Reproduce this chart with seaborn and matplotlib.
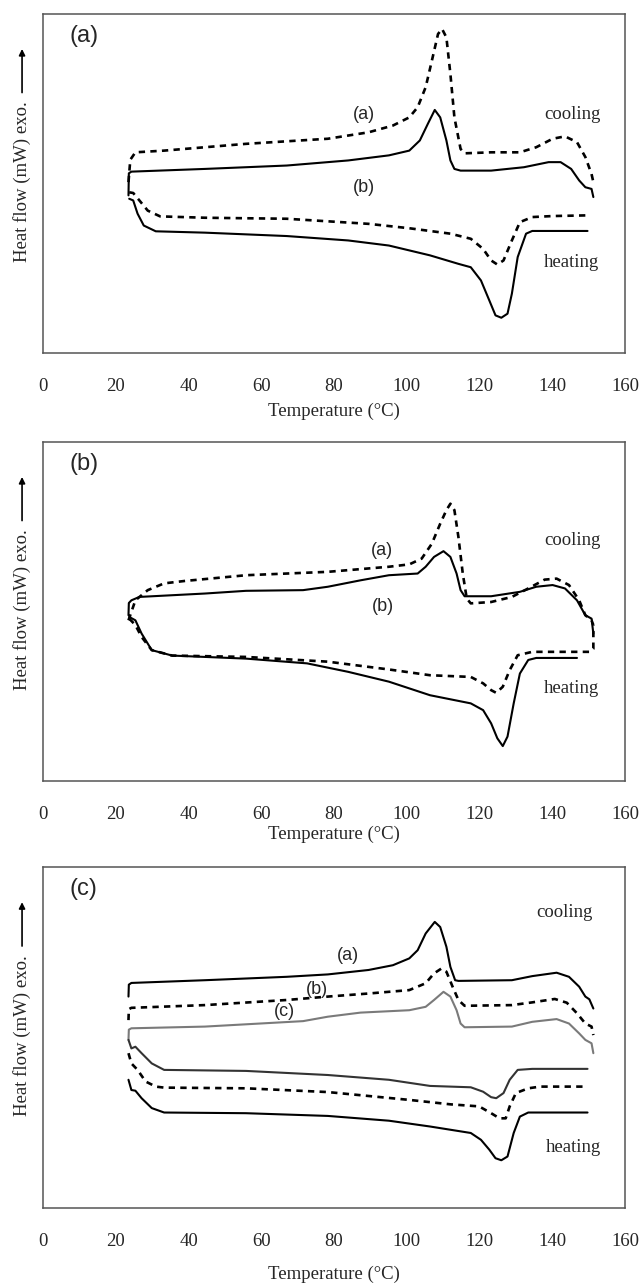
import pandas as pd
import matplotlib
matplotlib.use("Agg")
import matplotlib.pyplot as plt
import seaborn as sns

sns.set_style("white")
plt.rcParams['font.family'] = ['Liberation Serif', 'DejaVu Serif']

# ---- panel (a) ----
a_cool_a_T = [23.5, 24.0, 25.4, 33.3, 55.8, 78.3, 89.5, 96.2, 100.7, 103.0, 105.2, 106.9, 108.6, 109.7,
              110.9, 112.0, 113.1, 114.8, 115.9, 123.2, 131.1, 135.6, 140.1, 143.5, 146.8, 149.1, 150.8, 151.3]
a_cool_a_v = [50.4, 57.0, 59.2, 59.7, 61.7, 63.2, 65.1, 67.1, 69.5, 72.5, 78.4, 86.2, 94.1, 95.6,
              93.1, 82.3, 69.5, 60.2, 58.9, 59.2, 59.2, 60.7, 63.2, 63.9, 62.2, 57.8, 52.8, 50.4]
a_cool_b_T = [23.5, 23.6, 24.3, 44.5, 67.0, 83.9, 95.1, 100.7, 103.6, 105.8, 107.7, 109.2, 110.9, 112.0,
              113.1, 114.8, 123.2, 132.2, 139.0, 142.3, 145.2, 147.4, 149.1, 150.8, 151.3]
a_cool_b_v = [46.5, 53.0, 53.5, 54.3, 55.3, 56.8, 58.3, 59.7, 62.7, 67.6, 71.7, 69.5, 62.7, 56.8,
              54.3, 53.8, 53.8, 54.8, 56.3, 56.3, 54.3, 50.9, 48.9, 48.4, 46.0]
a_heat_a_T = [23.7, 24.8, 26.5, 28.8, 32.2, 44.5, 67.0, 89.5, 100.7, 112.0, 117.6, 121.0, 123.2, 124.9,
              126.6, 128.9, 131.1, 134.5, 140.1, 149.7]
a_heat_a_v = [47.4, 47.2, 45.0, 42.0, 40.3, 39.9, 39.6, 38.1, 36.8, 35.2, 33.7, 30.7, 27.3, 26.1,
              27.3, 33.2, 38.6, 40.1, 40.4, 40.6]
a_heat_b_T = [23.7, 24.8, 26.0, 27.7, 31.0, 44.5, 67.0, 83.9, 95.1, 106.4, 114.2, 117.6, 120.4, 122.7,
              124.4, 126.0, 127.7, 128.9, 130.5, 132.8, 134.5, 149.7]
a_heat_b_v = [45.5, 45.0, 41.1, 37.6, 35.9, 35.5, 34.5, 33.2, 31.7, 28.8, 26.3, 25.3, 21.4, 15.5,
              11.1, 10.4, 11.6, 17.5, 28.3, 35.2, 36.0, 36.0]

# ---- panel (b) ----
b_cool_a_T = [23.5, 25.4, 28.8, 33.3, 38.9, 55.8, 78.3, 95.1, 100.7, 104.1, 106.9, 109.2, 110.9, 112.0,
              113.1, 114.2, 115.4, 116.5, 117.6, 123.2, 128.9, 133.4, 137.9, 141.2, 144.6, 147.4, 149.1,
              150.8, 151.3]
b_cool_a_v = [47.4, 53.3, 56.3, 58.3, 59.0, 60.7, 61.7, 63.2, 63.9, 65.6, 70.0, 75.9, 79.9, 81.8,
              79.9, 72.0, 61.2, 53.8, 52.4, 52.8, 54.3, 56.8, 59.4, 59.7, 57.8, 53.3, 48.9, 47.4, 46.0]
b_cool_b_T = [23.5, 23.6, 24.3, 26.5, 44.5, 55.8, 71.5, 78.3, 87.3, 95.1, 103.0, 105.2, 107.5, 110.1,
              112.0, 113.7, 114.8, 115.9, 123.2, 131.1, 135.6, 140.1, 143.5, 146.8, 149.1, 150.8, 151.3]
b_cool_b_v = [48.9, 52.5, 53.3, 54.3, 55.3, 56.1, 56.3, 57.3, 59.2, 60.7, 61.2, 63.2, 66.1, 67.8,
              66.1, 61.2, 56.3, 54.5, 54.5, 55.8, 57.3, 57.8, 56.8, 53.3, 48.9, 47.9, 43.5]
b_heat_a_T = [23.7, 25.4, 27.1, 29.9, 35.5, 55.8, 78.3, 95.1, 106.4, 117.6, 121.0, 123.2, 124.6, 126.4,
              128.3, 130.5, 134.5, 150.2, 151.3, 151.3]
b_heat_a_v = [47.9, 46.0, 42.5, 38.6, 37.0, 36.6, 35.2, 32.9, 31.2, 30.7, 28.8, 26.8, 26.0, 27.8,
              32.7, 37.1, 38.1, 38.1, 39.0, 46.0]
b_heat_b_T = [23.7, 25.4, 27.1, 29.9, 35.5, 55.8, 72.6, 83.9, 95.1, 106.4, 117.6, 121.0, 123.2, 124.9,
              126.4, 127.7, 129.4, 131.1, 133.4, 135.6, 146.8]
b_heat_b_v = [48.4, 47.4, 43.5, 38.6, 37.0, 36.1, 34.7, 32.2, 29.3, 25.3, 22.9, 20.9, 17.0, 12.6,
              10.3, 13.1, 22.9, 31.7, 35.7, 36.3, 36.3]

# ---- panel (c) ----
c_cool_a_T = [23.5, 23.6, 24.3, 44.5, 67.0, 78.3, 89.5, 96.2, 100.7, 103.0, 105.2, 107.7, 109.2, 110.9,
              112.0, 113.3, 114.2, 128.9, 134.5, 141.2, 144.6, 147.4, 149.1, 150.2, 151.3]
c_cool_a_v = [62.0, 65.5, 66.0, 66.8, 67.8, 68.5, 69.8, 71.2, 73.2, 75.6, 80.5, 83.9, 82.4, 76.6,
              70.7, 66.8, 66.6, 66.8, 68.0, 69.0, 67.8, 64.9, 62.0, 61.2, 58.5]
c_cool_b_T = [23.5, 23.6, 24.3, 44.5, 67.0, 78.3, 89.5, 100.7, 105.2, 107.5, 109.5, 110.9, 112.6, 114.2,
              115.9, 128.9, 134.5, 140.7, 144.0, 146.8, 149.1, 150.8, 151.3]
c_cool_b_v = [55.1, 58.3, 58.7, 59.5, 61.0, 62.0, 62.9, 63.9, 65.9, 68.8, 70.2, 69.3, 64.9, 61.0,
              59.3, 59.5, 60.3, 61.3, 60.2, 57.1, 54.1, 53.2, 50.7]
c_cool_c_T = [23.5, 23.6, 24.3, 44.5, 71.5, 78.3, 87.3, 100.7, 105.2, 107.5, 110.1, 112.0, 113.7, 114.8,
              115.9, 128.9, 134.5, 141.2, 144.6, 147.4, 149.1, 150.8, 151.3]
c_cool_c_v = [49.3, 52.3, 52.7, 53.2, 54.8, 56.1, 57.3, 58.0, 59.0, 61.0, 63.4, 62.0, 58.0, 54.1,
              53.0, 53.2, 54.6, 55.4, 54.1, 51.2, 49.3, 48.3, 45.4]
c_heat_c_T = [23.5, 24.3, 25.4, 27.1, 29.9, 33.3, 55.8, 78.3, 95.1, 106.4, 117.6, 121.0, 123.2, 124.6,
              126.6, 128.3, 130.5, 134.5, 149.7]
c_heat_c_v = [49.3, 46.8, 47.3, 45.4, 42.4, 40.5, 40.2, 39.0, 37.6, 35.8, 35.4, 34.1, 32.5, 32.2,
              33.7, 37.6, 40.5, 40.8, 40.8]
c_heat_b_T = [23.5, 24.3, 26.0, 28.2, 31.0, 33.3, 55.8, 78.3, 100.7, 112.0, 119.9, 123.2, 125.5, 127.2,
              128.3, 130.0, 133.4, 136.7, 149.7]
c_heat_b_v = [45.4, 42.4, 40.5, 37.1, 35.6, 35.3, 35.1, 34.0, 31.7, 30.4, 29.8, 27.8, 26.3, 26.3,
              29.8, 33.7, 35.1, 35.6, 35.6]
c_heat_a_T = [23.5, 24.3, 25.4, 27.1, 29.9, 33.3, 55.8, 78.3, 95.1, 106.4, 117.6, 120.4, 122.7, 124.4,
              126.0, 127.7, 129.4, 131.1, 133.4, 149.7]
c_heat_a_v = [37.6, 34.6, 34.4, 32.2, 29.3, 28.0, 27.8, 27.0, 25.6, 23.9, 22.0, 20.0, 17.1, 14.6,
              14.0, 15.1, 22.0, 26.8, 28.0, 28.0]

panel_names = ["(a)", "(b)", "(c)"]
x_ticks = [0, 20, 40, 60, 80, 100, 120, 140, 160]

DASH = (0, (2.4, 2.0))
GRAY = "#7a7a7a"

panels = [
    dict(series=[(a_cool_a_T, a_cool_a_v, "k", DASH), (a_cool_b_T, a_cool_b_v, "k", "-"),
                 (a_heat_a_T, a_heat_a_v, "k", DASH), (a_heat_b_T, a_heat_b_v, "k", "-")],
         labels=[("(a)", 88.2, 70.5), ("(b)", 88.2, 48.9)],
         cooling=(145.5, 70.5), heating=(145.2, 26.8),
         rect=[43 / 641, (1285 - 353) / 1285, 582 / 641, 339 / 1285], xlab=-0.147),
    dict(series=[(b_cool_a_T, b_cool_a_v, "k", DASH), (b_cool_b_T, b_cool_b_v, "k", "-"),
                 (b_heat_a_T, b_heat_a_v, "k", DASH), (b_heat_b_T, b_heat_b_v, "k", "-")],
         labels=[("(a)", 93.1, 68.1), ("(b)", 93.4, 51.4)],
         cooling=(145.5, 71.0), heating=(145.2, 27.3),
         rect=[43 / 641, (1285 - 781) / 1285, 582 / 641, 339 / 1285], xlab=-0.133),
    dict(series=[(c_cool_a_T, c_cool_a_v, "k", "-"), (c_cool_b_T, c_cool_b_v, "k", DASH),
                 (c_cool_c_T, c_cool_c_v, GRAY, "-"), (c_heat_c_T, c_heat_c_v, "#333333", "-"),
                 (c_heat_b_T, c_heat_b_v, "k", DASH), (c_heat_a_T, c_heat_a_v, "k", "-")],
         labels=[("(a)", 83.7, 74.1), ("(b)", 75.4, 64.1), ("(c)", 66.5, 57.6)],
         cooling=(143.3, 86.8), heating=(145.9, 17.6),
         rect=[43 / 641, (1285 - 1208) / 1285, 582 / 641, 341 / 1285], xlab=-0.170),
]

fig = plt.figure(figsize=(6.41, 12.85), dpi=100)

for name, p in zip(panel_names, panels):
    ax = fig.add_axes(p["rect"])
    for T, v, col, ls in p["series"]:
        df = pd.DataFrame({"T": T, "hf": v})
        lw = 1.9 if ls == DASH else 1.5
        sns.lineplot(data=df, x="T", y="hf", ax=ax, sort=False, estimator=None,
                     color=col, linestyle=ls, linewidth=lw)
    ax.set_xlim(0, 160)
    ax.set_ylim(0, 100)
    ax.set_xticks(x_ticks)
    ax.set_xticks(range(0, 161, 4), minor=True)
    ax.set_yticks([])
    ax.tick_params(axis="x", which="major", direction="inout", length=8, width=1,
                   color="#444444", labelsize=13.5, pad=14)
    ax.tick_params(axis="x", which="minor", direction="in", length=4, width=0.8,
                   color="#444444")
    for s in ax.spines.values():
        s.set_color("#555555")
        s.set_linewidth(1.1)
    ax.set_xlabel("Temperature (\u00b0C)", fontsize=13.5)
    ax.xaxis.set_label_coords(0.5, p["xlab"])
    ax.set_ylabel("")

    ax.text(0.045, 0.935, name, transform=ax.transAxes, fontsize=17,
            family="Liberation Sans", ha="left", va="center")
    for lab, x, y in p["labels"]:
        ax.text(x, y, lab, fontsize=13, family="Liberation Sans", ha="center", va="center")
    ax.text(*p["cooling"], "cooling", fontsize=13.5, ha="center", va="center")
    ax.text(*p["heating"], "heating", fontsize=13.5, ha="center", va="center")

    # y label with the "exo" arrow
    ax.text(-0.036, 0.505, "Heat flow (mW) exo.", transform=ax.transAxes, rotation=90,
            fontsize=13.5, ha="center", va="center")
    ax.annotate("", xy=(-0.036, 0.905), xytext=(-0.036, 0.76), xycoords="axes fraction",
                arrowprops=dict(arrowstyle="-|>", color="k", lw=1.2, mutation_scale=9))

fig.savefig("out.png", dpi=100)
